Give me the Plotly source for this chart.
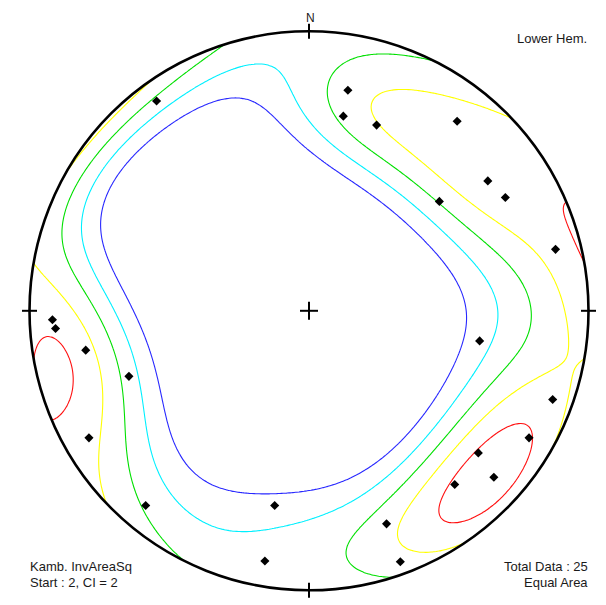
import numpy as np
import plotly.graph_objects as go

# Poles: trend / plunge in degrees (lower hemisphere)
trend = [324, 10, 10, 20, 38, 54, 60, 50, 76, 268, 266, 260, 250,
         100, 110, 240, 120, 130, 132, 140, 220, 190, 160, 190, 160]
plunge = [8, 21, 30, 30, 15, 22, 20, 39, 10, 9, 10, 20, 32,
          38, 8, 10, 10, 22, 12, 20, 10, 30, 20, 10, 5]

# Contour levels (start 2, interval 2) and their line colours
levels = [2, 4, 6, 8, 10]
level_colors = ["#2828ff", "#00f0ff", "#00e000", "#ffff00", "#ff1010"]

# Smoothing kernel and density scaling
KAPPA = 10.0
GAIN = 2.93
OFFSET = -4.08

# Pixel geometry of the net inside the 606 x 605 page
W, H = 606, 605
CX, CY, RPX = 309.0, 310.8, 279.5

tr = np.radians(np.array(trend, float))
pl = np.radians(np.array(plunge, float))
vec = np.stack([np.cos(pl) * np.sin(tr), np.cos(pl) * np.cos(tr), -np.sin(pl)], -1)

# Equal-area (Schmidt) projection of the poles
r_pole = np.sqrt(2) * np.sin((np.pi / 2 - pl) / 2)
px = r_pole * np.sin(tr)
py = r_pole * np.cos(tr)

# Density grid: back-project each node to the sphere, axial exponential kernel
g = np.linspace(-1.07, 1.07, 241)
GX, GY = np.meshgrid(g, g)
R2 = GX ** 2 + GY ** 2
sq = np.sqrt(np.clip(2 - R2, 0, None))
nodes = np.stack([GX * sq, GY * sq, -(1 - R2)], -1)
count = np.exp(KAPPA * (np.abs(nodes @ vec.T) - 1)).sum(-1)
density = GAIN * count + OFFSET

fig = go.Figure()
for lev, col in zip(levels, level_colors):
    fig.add_trace(go.Contour(
        x=g, y=g, z=density,
        contours=dict(start=lev, end=lev, size=1, coloring="lines"),
        colorscale=[[0, col], [1, col]], showscale=False,
        line=dict(width=1.1), hoverinfo="skip"))

fig.add_trace(go.Scatter(
    x=px, y=py, mode="markers", hoverinfo="skip",
    marker=dict(symbol="diamond", size=7, color="black", line=dict(width=0))))

# Axis ranges so that one data unit equals RPX pixels
xr = [-CX / RPX, (W - CX) / RPX]
yr = [(CY - H) / RPX, CY / RPX]

# White mask outside the primitive circle
th = np.linspace(0, 2 * np.pi, 361)
circ = " ".join(f"L{np.cos(a):.5f},{np.sin(a):.5f}" for a in th[1:])
mask = (f"M-3,-3 L3,-3 L3,3 L-3,3 Z "
        f"M1,0 {circ} Z")
shapes = [dict(type="path", path=mask, fillcolor="white", line=dict(width=0),
               layer="above", xref="x", yref="y")]
shapes.append(dict(type="circle", x0=-1, y0=-1, x1=1, y1=1, xref="x", yref="y",
                   line=dict(color="black", width=2.6), layer="above"))

tk = 7.5 / RPX
for ang in [0, 90, 180, 270]:
    a = np.radians(ang)
    sx, sy = np.sin(a), np.cos(a)
    shapes.append(dict(type="line", xref="x", yref="y", layer="above",
                       x0=sx * (1 - tk), y0=sy * (1 - tk),
                       x1=sx * (1 + tk), y1=sy * (1 + tk),
                       line=dict(color="black", width=2)))
cr = 9 / RPX
shapes.append(dict(type="line", xref="x", yref="y", layer="above",
                   x0=-cr, y0=0, x1=cr, y1=0, line=dict(color="black", width=2)))
shapes.append(dict(type="line", xref="x", yref="y", layer="above",
                   x0=0, y0=-cr, x1=0, y1=cr, line=dict(color="black", width=2)))

FONT = dict(family="Liberation Sans, Arial, sans-serif", size=13, color="#1a1a1a")


def px2x(xp):
    return (xp - CX) / RPX


def px2y(yp):
    return (CY - yp) / RPX


annotations = [
    dict(text="N", x=px2x(310), y=px2y(17.5), xanchor="center", yanchor="middle",
         font=dict(family=FONT["family"], size=12, color="#1a1a1a")),
    dict(text="Lower Hem.", x=px2x(589), y=px2y(38), xanchor="right", yanchor="middle", font=FONT),
    dict(text="Kamb. InvAreaSq", x=px2x(28), y=px2y(566), xanchor="left", yanchor="middle", font=FONT),
    dict(text="Start : 2, CI = 2", x=px2x(28), y=px2y(582), xanchor="left", yanchor="middle", font=FONT),
    dict(text="Total Data : 25", x=px2x(590), y=px2y(566), xanchor="right", yanchor="middle", font=FONT),
    dict(text="Equal Area", x=px2x(590), y=px2y(582), xanchor="right", yanchor="middle", font=FONT),
]
for an in annotations:
    an.update(xref="x", yref="y", showarrow=False)

fig.update_layout(
    width=W, height=H, margin=dict(l=0, r=0, t=0, b=0, pad=0),
    paper_bgcolor="white", plot_bgcolor="white", showlegend=False,
    xaxis=dict(range=xr, visible=False, fixedrange=True),
    yaxis=dict(range=yr, visible=False, fixedrange=True),
    shapes=shapes, annotations=annotations,
)
fig.write_html("out.html")
